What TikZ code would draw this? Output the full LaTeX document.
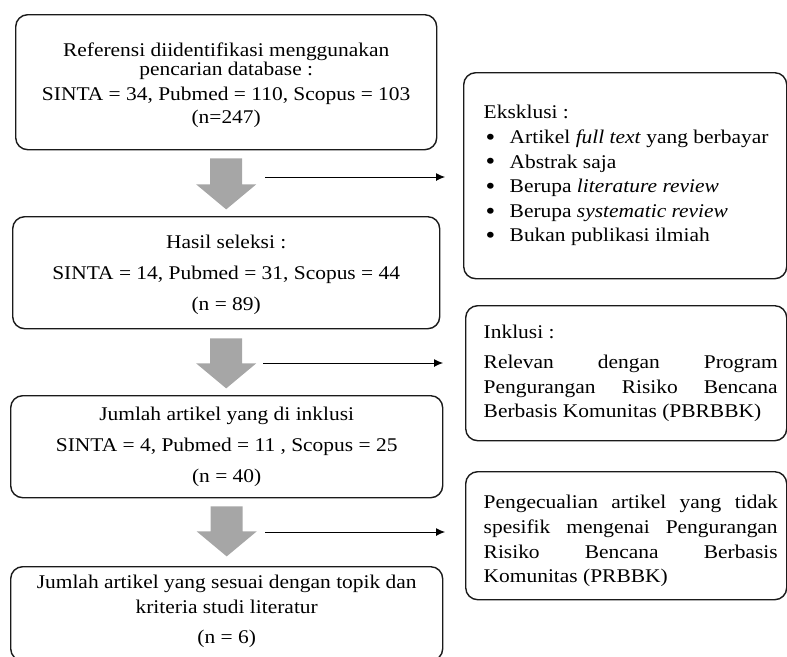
\documentclass[tikz,border=0pt]{standalone}
\usepackage{fontspec}
\setmainfont{Liberation Serif}[FakeStretch=1.105]
\usetikzlibrary{arrows.meta}
\definecolor{arrgray}{HTML}{A6A6A6}
\definecolor{edge}{HTML}{1A1A1A}
\newcommand\bitem{\makebox[26pt][l]{\hspace{2pt}\raisebox{-1.8pt}{\fontsize{25}{25}\selectfont\textbullet}}}
% centred text block: height, width, space above first line, text
\newcommand\ctext[4]{\parbox[c][#1][t]{#2}{\centering\vspace*{#3}#4}}
% left-aligned text block: left pad, height, space above first line, text
\newcommand\ltext[4]{\hspace*{#1}\parbox[c][#2][t]{294pt}{\vspace*{#3}#4}\hspace*{9pt}}
\begin{document}
\begin{tikzpicture}[x=1pt,y=-1pt,
  lbox/.style={draw=edge, line width=1.4pt, rounded corners=12pt, inner sep=0pt,
    anchor=north west, font=\fontsize{19.4}{19}\selectfont},
  rbox/.style={draw=edge, line width=1.4pt, rounded corners=12pt, inner sep=0pt,
    anchor=north west, font=\fontsize{19.4}{24.6}\selectfont},
  garrow/.style={fill=arrgray, draw=none},
  thinarr/.style={draw=black, line width=0.9pt, -{Latex[length=9pt,width=8pt]}}
]
\useasboundingbox (0,0) rectangle (787,656);
\clip (0,0) rectangle (787,656);

% left column boxes
\node[lbox] (b1) at (15,14)
  {\ctext{135pt}{421pt}{27.8pt}{Referensi diidentifikasi menggunakan\\
   pencarian database :\\[6pt]
   SINTA = 34, Pubmed = 110, Scopus = 103\\[4pt] (n=247)}};
\node[lbox] (b2) at (12,216)
  {\ctext{112pt}{427pt}{18.8pt}{Hasil seleksi :\\[12pt]
   SINTA = 14, Pubmed = 31, Scopus = 44\\[12pt] (n = 89)}};
\node[lbox] (b3) at (10,395)
  {\ctext{102pt}{432pt}{11.8pt}{Jumlah artikel yang di inklusi\\[12pt]
   SINTA = 4, Pubmed = 11 , Scopus = 25\\[12pt] (n = 40)}};
\node[lbox] (b4) at (10,566)
  {\ctext{94pt}{432pt}{8.8pt}{Jumlah artikel yang sesuai dengan topik dan\\[6pt]
   kriteria studi literatur\\[11pt] (n = 6)}};

% right column boxes
\node[rbox] (r1) at (463,72)
  {\ltext{20pt}{206pt}{32.8pt}{%
   Eksklusi :\\
   \bitem Artikel \textit{full text} yang berbayar\\
   \bitem Abstrak saja\\
   \bitem Berupa \textit{literature review}\\
   \bitem Berupa \textit{systematic review}\\
   \bitem Bukan publikasi ilmiah}};
\node[rbox] (r2) at (465,305)
  {\ltext{18pt}{135pt}{19.8pt}{%
   Inklusi :\\[5pt]
   \makebox[294pt][s]{Relevan dengan Program}\\
   \makebox[294pt][s]{Pengurangan Risiko Bencana}\\
   Berbasis Komunitas (PBRBBK)}};
\node[rbox] (r3) at (465,471)
  {\ltext{18pt}{128pt}{23.8pt}{%
   \makebox[294pt][s]{Pengecualian artikel yang tidak}\\
   \makebox[294pt][s]{spesifik mengenai Pengurangan}\\
   \makebox[294pt][s]{Risiko Bencana Berbasis}\\
   Komunitas (PRBBK)}};

% gray block arrows between boxes
\fill[garrow] (b1.south) ++(-16,8) -- ++(32,0) -- ++(0,26) -- ++(14,0)
  -- ++(-30,25) -- ++(-30,-25) -- ++(14,0) -- cycle;
\fill[garrow] (b2.south) ++(-16,9) -- ++(32,0) -- ++(0,25) -- ++(14,0)
  -- ++(-30,25) -- ++(-30,-25) -- ++(14,0) -- cycle;
\fill[garrow] (b3.south) ++(-16,8) -- ++(32,0) -- ++(0,25) -- ++(14,0)
  -- ++(-30,25) -- ++(-30,-25) -- ++(14,0) -- cycle;

% thin arrows to the side boxes
\coordinate (t1) at (265,177);
\coordinate (t2) at (263,363);
\coordinate (t3) at (265,532);
\draw[thinarr, shorten >=18pt] (t1) -- (t1 -| r1.west);
\draw[thinarr, shorten >=22pt] (t2) -- (t2 -| r2.west);
\draw[thinarr, shorten >=20pt] (t3) -- (t3 -| r3.west);
\end{tikzpicture}
\end{document}
